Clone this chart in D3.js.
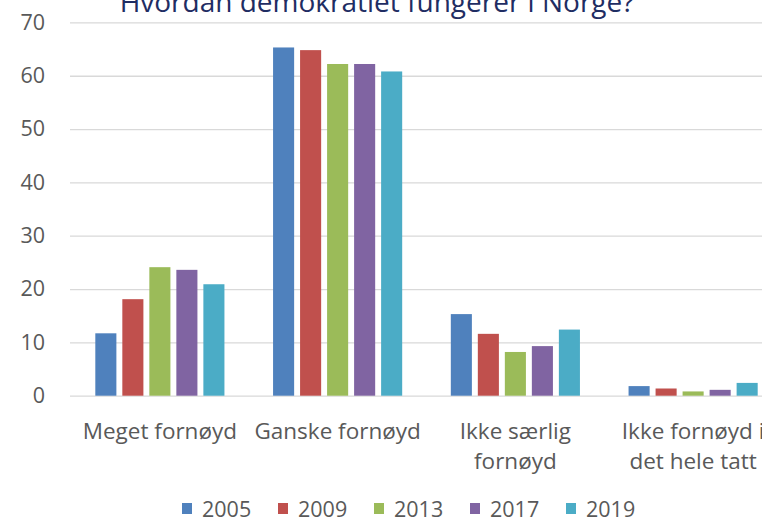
<!DOCTYPE html>
<html>
<head>
<meta charset="utf-8">
<script src="https://cdn.jsdelivr.net/npm/d3@7"></script>
<style>
  body { margin: 0; background: #fff; }
  text { font-family: "Open Sans", "Liberation Sans", sans-serif; }
  .grid line { stroke: #d9d9d9; stroke-width: 1.3; }
  .grid path { display: none; }
  .y.axis path, .y.axis line { display: none; }
  .y.axis text { fill: #595959; font-size: 21.5px; }
  .cat { fill: #595959; font-size: 22.5px; }
  .legend text { fill: #595959; font-size: 21.5px; }
</style>
</head>
<body>
<div id="chart"></div>
<script>
var title = "Hvordan demokratiet fungerer i Norge?";
var categories = ["Meget fornøyd", "Ganske fornøyd", "Ikke særlig\nfornøyd", "Ikke fornøyd i\ndet hele tatt"];
var years = ["2005", "2009", "2013", "2017", "2019"];
var colors = ["#4f81bd", "#c0504d", "#9bbb59", "#8064a2", "#4bacc6"];
var values2005 = [11.7, 65.3, 15.3, 1.8];
var values2009 = [18.1, 64.8, 11.6, 1.35];
var values2013 = [24.1, 62.2, 8.2, 0.8];
var values2017 = [23.6, 62.2, 9.3, 1.1];
var values2019 = [20.9, 60.8, 12.4, 2.4];
var yTicks = [0, 10, 20, 30, 40, 50, 60, 70];

var series = [values2005, values2009, values2013, values2017, values2019];

var width = 762, height = 520;
var svg = d3.select("#chart").append("svg")
    .attr("width", width)
    .attr("height", height);

var x0 = d3.scaleBand().domain(categories).range([71, 782]);
var x1 = d3.scaleBand().domain(years).range([0, x0.bandwidth()])
    .paddingInner(0.22).paddingOuter(0.9);
var y = d3.scaleLinear().domain([0, 70]).range([395.7, 22.4]);

// gridlines
svg.append("g")
    .attr("class", "grid")
    .attr("transform", "translate(70,0)")
    .call(d3.axisLeft(y).tickValues(yTicks).tickSize(-720).tickFormat(""));

svg.append("g")
    .attr("class", "y axis")
    .attr("transform", "translate(45,0)")
    .call(d3.axisLeft(y).tickValues(yTicks).tickSize(0).tickPadding(0));

// title (cut off at top, as in the source picture)
svg.append("text")
    .attr("x", 377)
    .attr("y", 12)
    .attr("text-anchor", "middle")
    .style("font-size", "28px")
    .style("fill", "#1f2d63")
    .text(title);

// bars
var groups = svg.selectAll(".group")
    .data(categories)
  .enter().append("g")
    .attr("class", "group")
    .attr("transform", function(d) { return "translate(" + x0(d) + ",0)"; });

groups.selectAll("rect")
    .data(function(d, i) {
        return years.map(function(yr, j) { return {year: yr, value: series[j][i], color: colors[j]}; });
    })
  .enter().append("rect")
    .attr("x", function(d) { return x1(d.year); })
    .attr("width", x1.bandwidth())
    .attr("y", function(d) { return y(d.value); })
    .attr("height", function(d) { return y(0) - y(d.value); })
    .attr("fill", function(d) { return d.color; });

// category labels
var catLabels = svg.selectAll(".cat")
    .data(categories)
  .enter().append("text")
    .attr("class", "cat")
    .attr("text-anchor", "middle")
    .attr("x", function(d) { return x0(d) + x0.bandwidth() / 2; })
    .attr("y", 439);

catLabels.selectAll("tspan")
    .data(function(d) { return d.split("\n"); })
  .enter().append("tspan")
    .attr("x", function() { return this.parentNode.getAttribute("x"); })
    .attr("dy", function(d, i) { return i === 0 ? 0 : 30; })
    .text(function(d) { return d; });

// legend
var legend = svg.append("g").attr("class", "legend");
var item = legend.selectAll(".item")
    .data(years)
  .enter().append("g")
    .attr("class", "item")
    .attr("transform", function(d, i) { return "translate(" + (182 + i * 96) + ",0)"; });

item.append("rect")
    .attr("y", 503)
    .attr("width", 10)
    .attr("height", 11)
    .attr("fill", function(d, i) { return colors[i]; });

item.append("text")
    .attr("x", 20)
    .attr("y", 517)
    .text(function(d) { return d; });
</script>
</body>
</html>
